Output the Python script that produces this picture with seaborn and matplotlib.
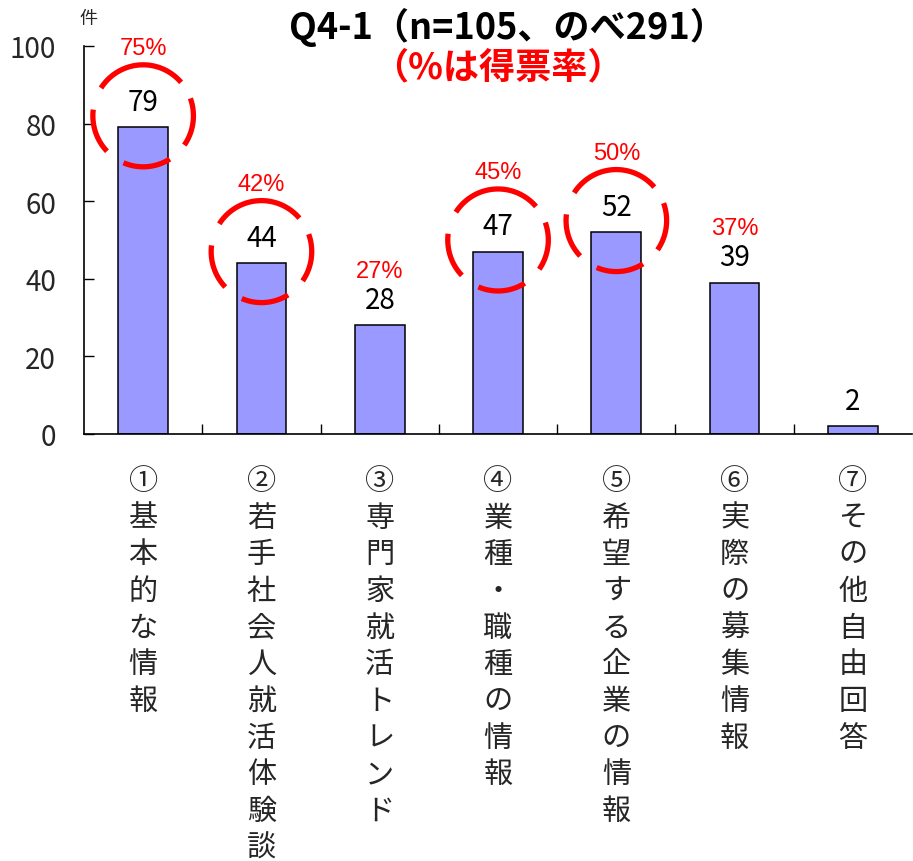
import numpy as np
import pandas as pd
import matplotlib
matplotlib.use("Agg")
import matplotlib.pyplot as plt
import seaborn as sns

# データ
categories = ["①基本的な情報", "②若手社会人就活体験談", "③専門家就活トレンド",
              "④業種・職種の情報", "⑤希望する企業の情報", "⑥実際の募集情報", "⑦その他自由回答"]
counts = [79, 44, 28, 47, 52, 39, 2]
rates = [75, 42, 27, 45, 50, 37, None]
highlight = [True, True, False, True, True, False, False]
yticks = [0, 20, 40, 60, 80, 100]

title1 = "Q4-1（n=105、のべ291）"
title2 = "（%は得票率）"

sns.set_theme(style="white")
plt.rcParams['font.family'] = ['Noto Sans CJK JP', 'DejaVu Sans']

df = pd.DataFrame({"cat": categories, "count": counts})

fig = plt.figure(figsize=(9.13, 8.62), dpi=100)
ax = fig.add_axes([0.092, 0.4954, 0.907, 0.4501])

sns.barplot(data=df, x="cat", y="count", color="#9999FF", saturation=1,
            width=0.42, edgecolor="black", linewidth=1.1, ax=ax)

ax.set_xlim(-0.5, len(categories) - 0.5)
ax.set_ylim(0, 100)
ax.set_yticks(yticks)
ax.tick_params(axis="y", direction="in", length=7, width=1, pad=20,
               labelsize=20, color="black", left=True)

# x軸: 区切り線の目盛り(小)とラベル(大)
ax.set_xticks(range(len(categories)))
ax.set_xticklabels(["\n".join(c) for c in categories], fontsize=21,
                   linespacing=1.29, va="top")
ax.set_xticks(np.arange(0.5, len(categories) - 0.5, 1), minor=True)
ax.tick_params(axis="x", which="major", length=0, pad=23)
ax.tick_params(axis="x", which="minor", direction="in", length=7, width=1,
               color="black", bottom=True)
ax.set_xlabel("")
ax.set_ylabel("")

for s in ["top", "right"]:
    ax.spines[s].set_visible(False)
for s in ["left", "bottom"]:
    ax.spines[s].set_color("black")
    ax.spines[s].set_linewidth(1.2)

# ラベルと丸
px_per_unit = ax.bbox.height / 100
rx = 0.425
ry = 51 / px_per_unit
segs = [(-35, 20), (41, 147), (173, 224), (247, 302)]
for i, (v, r, h) in enumerate(zip(counts, rates, highlight)):
    ax.text(i, v + 6.5, str(v), ha="center", va="center", fontsize=20, color="black")
    if r is not None:
        off = 20.5 if h else 14
        ax.text(i, v + off, f"{r}%", ha="center", va="center", fontsize=17,
                color="red", family="Liberation Sans")
    if h:
        cy = v + 3
        for a, b in segs:
            t = np.radians(np.linspace(a, b, 60))
            ax.plot(i + rx * np.cos(t), cy + ry * np.sin(t), color="red",
                    lw=3.8, solid_capstyle="butt", clip_on=False)

fig.text(0.097, 0.978, "件", ha="center", va="center", fontsize=13)
fig.text(0.556, 0.968, title1, ha="center", va="center", fontsize=26,
         fontweight="bold", color="black")
fig.text(0.545, 0.921, title2, ha="center", va="center", fontsize=26,
         fontweight="bold", color="red")

fig.savefig("out.png", dpi=100)
